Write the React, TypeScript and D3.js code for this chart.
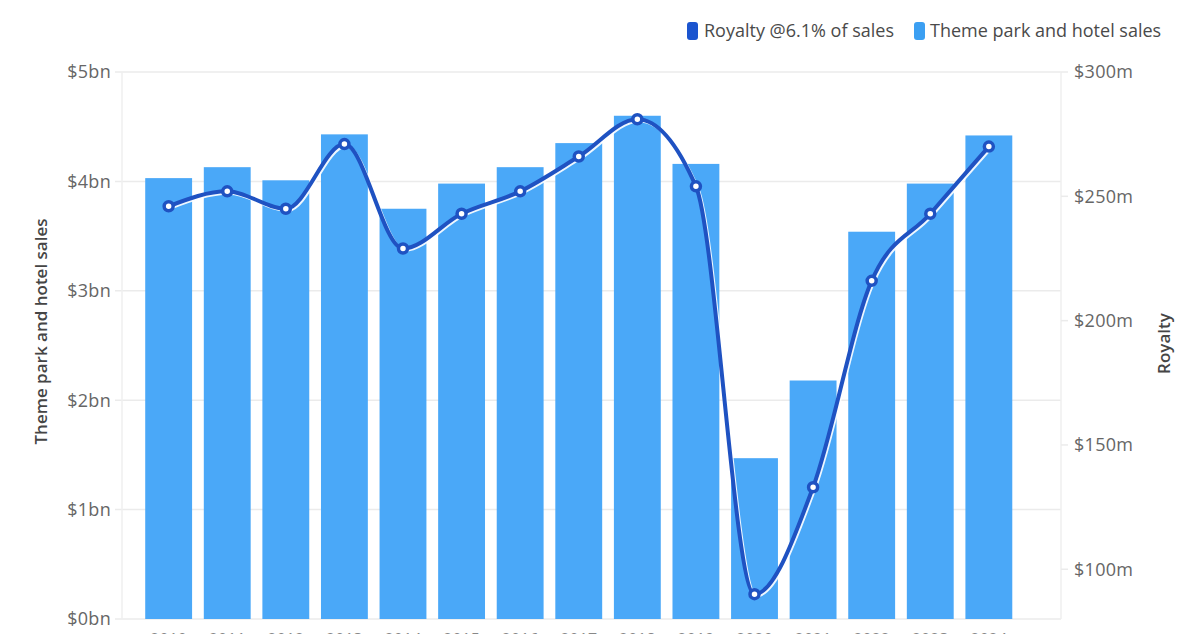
import React from "react";
import * as d3 from "d3";

const years = ["2010","2011","2012","2013","2014","2015","2016","2017","2018","2019","2020","2021","2022","2023","2024"];
const sales = [4.03, 4.13, 4.01, 4.43, 3.75, 3.98, 4.13, 4.35, 4.60, 4.16, 1.47, 2.18, 3.54, 3.98, 4.42];
const royalty = [246, 252, 245, 271, 229, 243, 252, 266, 281, 254, 90, 133, 216, 243, 270];
const leftTicks = [0, 1, 2, 3, 4, 5];
const rightTicks = [100, 150, 200, 250, 300];

const W = 1200, H = 634;
const L = 122, R = 1061, T = 72, B = 619;
const FONT = "'Open Sans', 'Noto Sans', sans-serif";
const BAR = "#4aa8f8";
const LINE = "#1f52c2";

export default function App() {
  const x = d3.scaleBand<string>().domain(years).range([133.5, 1024]).padding(0.2);
  const yL = d3.scaleLinear().domain([0, 5]).range([B, T]);
  const yR = d3.scaleLinear().domain([80, 300]).range([B, T]);
  const cx = (i: number) => (x(years[i]) as number) + x.bandwidth() / 2;
  const line = d3.line<number>().x((_, i) => cx(i)).y((d) => yR(d)).curve(d3.curveMonotoneX);
  const path = line(royalty) || "";

  return (
    <svg width={W} height={H} style={{ position: "absolute", left: 0, top: 0, background: "#fff" }} fontFamily={FONT}>
      {/* grid */}
      {leftTicks.map((t) => (
        <line key={"g" + t} x1={L - 7} x2={R} y1={yL(t)} y2={yL(t)} stroke="#ebebeb" strokeWidth={1.5} />
      ))}
      <line x1={L} x2={L} y1={T} y2={B} stroke="#efefef" strokeWidth={1.5} />
      <line x1={R} x2={R} y1={T} y2={B} stroke="#efefef" strokeWidth={1.5} />
      {leftTicks.map((t) => (
        <text key={"lt" + t} x={L - 11} y={yL(t)} dy="0.35em" textAnchor="end" fontSize={18} letterSpacing={0.3} fill="#666">
          {"$" + t + "bn"}
        </text>
      ))}
      {rightTicks.map((t) => (
        <g key={"rt" + t}>
          <line x1={R} x2={R + 7} y1={yR(t)} y2={yR(t)} stroke="#ebebeb" strokeWidth={1.5} />
          <text x={R + 13} y={yR(t)} dy="0.35em" textAnchor="start" fontSize={18} letterSpacing={0.3} fill="#666">
            {"$" + t + "m"}
          </text>
        </g>
      ))}
      {/* bars */}
      {sales.map((v, i) => (
        <rect key={"b" + i} x={x(years[i])} y={yL(v)} width={x.bandwidth()} height={yL(0) - yL(v)} fill={BAR} />
      ))}
      {/* x labels (mostly cropped, as in the reference) */}
      {years.map((yv, i) => (
        <text key={"xl" + i} x={cx(i)} y={645} textAnchor="middle" fontSize={16} fill="#888">{yv}</text>
      ))}
      {/* line */}
      <path d={path} fill="none" stroke="#ffffff" strokeWidth={3} transform="translate(1.8,1.8)" opacity={0.9} />
      <path d={path} fill="none" stroke={LINE} strokeWidth={4} />
      {royalty.map((v, i) => (
        <circle key={"c" + i} cx={cx(i)} cy={yR(v)} r={4.5} fill="#fff" stroke={LINE} strokeWidth={3.5} />
      ))}
      {/* axis titles */}
      <text transform={`translate(47,${(T + B) / 2 - 14}) rotate(-90)`} textAnchor="middle" fontSize={17} fontWeight={600} fill="#454545">
        Theme park and hotel sales
      </text>
      <text transform={`translate(1170,${(T + B) / 2 - 2}) rotate(-90)`} textAnchor="middle" fontSize={17} fontWeight={600} fill="#454545">
        Royalty
      </text>
      {/* legend */}
      <rect x={687} y={22} width={11} height={18} rx={3} fill="#1b55cf" />
      <text x={704} y={31} dy="0.35em" fontSize={18} fill="#4a4a4a">Royalty @6.1% of sales</text>
      <rect x={914} y={22} width={11} height={18} rx={3} fill="#3b9ff2" />
      <text x={930} y={31} dy="0.35em" fontSize={18} fill="#4a4a4a">Theme park and hotel sales</text>
    </svg>
  );
}
